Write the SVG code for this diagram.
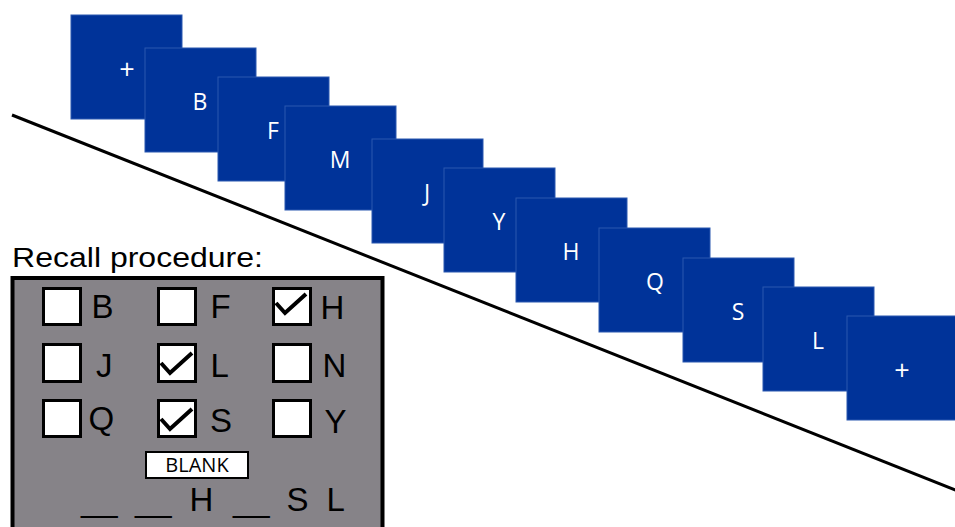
<svg xmlns="http://www.w3.org/2000/svg" width="955" height="527" viewBox="0 0 955 527">
<style>
.slide{fill:#003399;stroke:#2a58b0;stroke-width:1}
.sl{font-family:"Open Sans",Lato,sans-serif;font-size:23px;fill:#ffffff;text-anchor:middle}
.pl{font-size:27px}
.cb{fill:#ffffff;stroke:#000000;stroke-width:3}
.ck{fill:none;stroke:#000000;stroke-width:4;stroke-linejoin:miter}
.lt{font-family:"Liberation Sans",Arial,sans-serif;font-size:33px;fill:#000000}
</style>
<rect width="955" height="527" fill="#ffffff"/>
<g id="connectors">
<line x1="12" y1="115" x2="958" y2="491" stroke="#000000" stroke-width="3"/>
</g>
<g id="slide1"><rect class="slide" x="71" y="15" width="111" height="104"/><text class="sl pl" x="127" y="79">+</text></g>
<g id="slide2"><rect class="slide" x="145" y="48" width="111" height="104"/><text class="sl" x="200" y="110">B</text></g>
<g id="slide3"><rect class="slide" x="218" y="77" width="111" height="104"/><text class="sl" x="273" y="139">F</text></g>
<g id="slide4"><rect class="slide" x="285" y="106" width="111" height="104"/><text class="sl" x="340" y="168">M</text></g>
<g id="slide5"><rect class="slide" x="372" y="139" width="111" height="104"/><text class="sl" x="427" y="201">J</text></g>
<g id="slide6"><rect class="slide" x="444" y="168" width="111" height="104"/><text class="sl" x="499" y="230">Y</text></g>
<g id="slide7"><rect class="slide" x="516" y="198" width="111" height="104"/><text class="sl" x="571" y="260">H</text></g>
<g id="slide8"><rect class="slide" x="599" y="228" width="111" height="104"/><text class="sl" x="655" y="290">Q</text></g>
<g id="slide9"><rect class="slide" x="683" y="258" width="111" height="104"/><text class="sl" x="738" y="320">S</text></g>
<g id="slide10"><rect class="slide" x="763" y="287" width="111" height="104"/><text class="sl" x="818" y="349">L</text></g>
<g id="slide11"><rect class="slide" x="847" y="316" width="111" height="104"/><text class="sl pl" x="902" y="380">+</text></g>
<g id="recall">
<text x="12" y="267" font-family="Liberation Sans, Arial, sans-serif" font-size="28" textLength="251" lengthAdjust="spacingAndGlyphs" fill="#000000">Recall procedure:</text>
<rect x="12.5" y="278" width="370" height="262" fill="#868388" stroke="#000000" stroke-width="4"/>
<rect class="cb" x="43.5" y="288.5" width="37" height="36"/>
<rect class="cb" x="158.5" y="288.5" width="37" height="36"/>
<rect class="cb" x="273.5" y="288.5" width="37" height="36"/>
<rect class="cb" x="43.5" y="344.5" width="37" height="37"/>
<rect class="cb" x="158.5" y="344.5" width="37" height="37"/>
<rect class="cb" x="273.5" y="344.5" width="37" height="37"/>
<rect class="cb" x="43.5" y="400.5" width="37" height="36"/>
<rect class="cb" x="158.5" y="400.5" width="37" height="36"/>
<rect class="cb" x="273.5" y="400.5" width="37" height="36"/>
<polyline class="ck" points="276,303 285,313 306,294"/>
<polyline class="ck" points="161,363 170,373 192,353"/>
<polyline class="ck" points="161,419 170,429 192,409"/>
<text class="lt" x="91.5" y="318">B</text>
<text class="lt" x="210.5" y="318">F</text>
<text class="lt" x="320.5" y="319">H</text>
<text class="lt" x="96" y="377">J</text>
<text class="lt" x="210.5" y="377">L</text>
<text class="lt" x="322.5" y="377">N</text>
<text class="lt" x="88.5" y="430">Q</text>
<text class="lt" x="210" y="432">S</text>
<text class="lt" x="324.5" y="433">Y</text>
<rect x="146" y="452" width="102" height="26" fill="#ffffff" stroke="#000000" stroke-width="2"/>
<text x="197" y="472" font-family="'Open Sans', Lato, sans-serif" font-size="20" fill="#000000" text-anchor="middle">BLANK</text>
<text class="lt" y="511"><tspan x="81">__</tspan><tspan x="135">__</tspan><tspan x="189.5">H</tspan><tspan x="233">__</tspan><tspan x="286.5">S</tspan><tspan x="326.5">L</tspan></text>
</g>
</svg>
